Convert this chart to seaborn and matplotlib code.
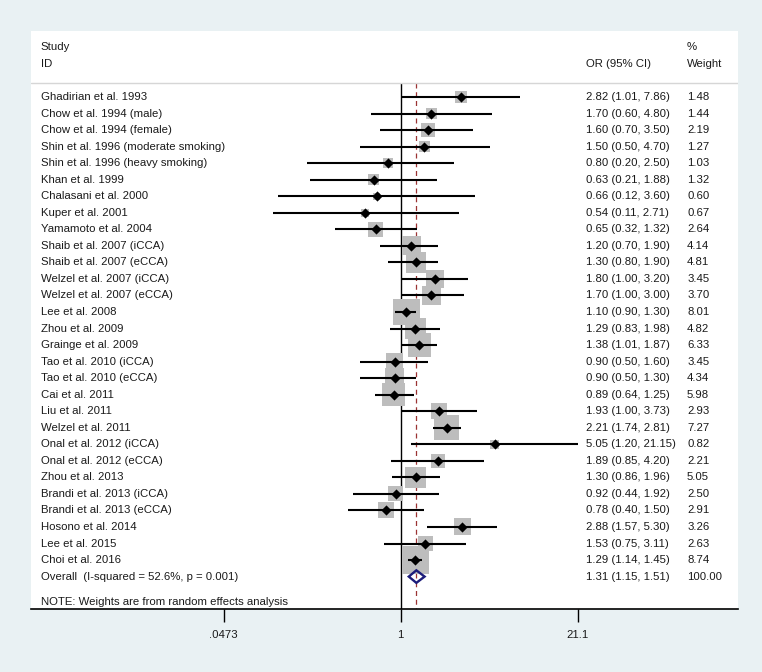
import numpy as np
import matplotlib
matplotlib.use("Agg")
import matplotlib.pyplot as plt
import matplotlib.transforms as mtransforms
import seaborn as sns

studies = [
    "Ghadirian et al. 1993", "Chow et al. 1994 (male)", "Chow et al. 1994 (female)",
    "Shin et al. 1996 (moderate smoking)", "Shin et al. 1996 (heavy smoking)",
    "Khan et al. 1999", "Chalasani et al. 2000", "Kuper et al. 2001",
    "Yamamoto et al. 2004", "Shaib et al. 2007 (iCCA)", "Shaib et al. 2007 (eCCA)",
    "Welzel et al. 2007 (iCCA)", "Welzel et al. 2007 (eCCA)", "Lee et al. 2008",
    "Zhou et al. 2009", "Grainge et al. 2009", "Tao et al. 2010 (iCCA)",
    "Tao et al. 2010 (eCCA)", "Cai et al. 2011", "Liu et al. 2011",
    "Welzel et al. 2011", "Onal et al. 2012 (iCCA)", "Onal et al. 2012 (eCCA)",
    "Zhou et al. 2013", "Brandi et al. 2013 (iCCA)", "Brandi et al. 2013 (eCCA)",
    "Hosono et al. 2014", "Lee et al. 2015", "Choi et al. 2016",
]
odds = [2.82, 1.70, 1.60, 1.50, 0.80, 0.63, 0.66, 0.54, 0.65, 1.20, 1.30, 1.80, 1.70,
        1.10, 1.29, 1.38, 0.90, 0.90, 0.89, 1.93, 2.21, 5.05, 1.89, 1.30, 0.92, 0.78,
        2.88, 1.53, 1.29]
lower = [1.01, 0.60, 0.70, 0.50, 0.20, 0.21, 0.12, 0.11, 0.32, 0.70, 0.80, 1.00, 1.00,
         0.90, 0.83, 1.01, 0.50, 0.50, 0.64, 1.00, 1.74, 1.20, 0.85, 0.86, 0.44, 0.40,
         1.57, 0.75, 1.14]
upper = [7.86, 4.80, 3.50, 4.70, 2.50, 1.88, 3.60, 2.71, 1.32, 1.90, 1.90, 3.20, 3.00,
         1.30, 1.98, 1.87, 1.60, 1.30, 1.25, 3.73, 2.81, 21.15, 4.20, 1.96, 1.92, 1.50,
         5.30, 3.11, 1.45]
weights = [1.48, 1.44, 2.19, 1.27, 1.03, 1.32, 0.60, 0.67, 2.64, 4.14, 4.81, 3.45, 3.70,
           8.01, 4.82, 6.33, 3.45, 4.34, 5.98, 2.93, 7.27, 0.82, 2.21, 5.05, 2.50, 2.91,
           3.26, 2.63, 8.74]
overall_label = "Overall  (I-squared = 52.6%, p = 0.001)"
overall_or, overall_lo, overall_hi, overall_w = 1.31, 1.15, 1.51, 100.00
note = "NOTE: Weights are from random effects analysis"
tick_vals = [0.0473, 1, 21.1]
tick_labels = [".0473", "1", "21.1"]

sns.set_style("white")
plt.rcParams["font.family"] = ["Liberation Sans", "DejaVu Sans"]
fs = 8.2
txt_col = "#1a1a1a"

rows = np.arange(len(studies))
row_overall = len(studies)
row_note = row_overall + 1.55
row_header = -0.85
y_top, y_bot = -3.99, 30.96

fig = plt.figure(figsize=(7.62, 6.72), dpi=100, facecolor="#e9f1f3")
ax = fig.add_axes([31 / 762, 63 / 672, 707 / 762, 578 / 672])
ax.set_facecolor("white")

# confidence intervals
ax.hlines(rows, lower, upper, color="black", lw=1.5, zorder=3)

# weight boxes and point estimates
box_sizes = 46 * np.array(weights)
sns.scatterplot(x=odds, y=rows, marker="s", s=box_sizes, color="#bdbdbd",
                linewidth=0, ax=ax, zorder=2)
sns.scatterplot(x=odds, y=rows, marker="D", s=27, color="black",
                linewidth=0, ax=ax, zorder=4)

# overall diamond
h = 0.38
ax.fill([overall_lo, overall_or, overall_hi, overall_or, overall_lo],
        [row_overall, row_overall - h, row_overall, row_overall + h, row_overall],
        facecolor="none", edgecolor="#1c1c7a", lw=1.7, zorder=5)

# reference lines
ax.vlines(1, row_header, y_bot, color="black", lw=1.0, zorder=1)
ax.vlines(overall_or, row_header, y_bot, color="#9b3333", lw=0.9,
          linestyles=(0, (4, 3)), zorder=1)
ax.axhline(row_header, color="#d6d6d6", lw=1.0)

ax.set_xscale("log")
ax.set_xlim(np.exp(-6.374), np.exp(5.816))
ax.set_ylim(y_bot, y_top)
ax.set_xticks(tick_vals)
ax.set_xticklabels(tick_labels, fontsize=fs, color=txt_col)
ax.minorticks_off()
ax.set_yticks([])
ax.tick_params(axis="x", bottom=True, direction="out", length=9, width=1.0,
               pad=6, color="black")
for side in ["top", "left", "right"]:
    ax.spines[side].set_visible(False)
ax.spines["bottom"].set_color("black")
ax.spines["bottom"].set_linewidth(1.2)

# text columns
tr = mtransforms.blended_transform_factory(ax.transAxes, ax.transData)
x_id, x_or, x_w = 0.0141, 0.785, 0.928
kw = dict(transform=tr, fontsize=fs, color=txt_col, va="center", ha="left")
ax.text(x_id, -3.02, "Study", **kw)
ax.text(x_id, -2.0, "ID", **kw)
ax.text(x_or, -2.0, "OR (95% CI)", **kw)
ax.text(x_w, -3.02, "%", **kw)
ax.text(x_w, -2.0, "Weight", **kw)
for i, name in enumerate(studies):
    ax.text(x_id, i, name, **kw)
    ax.text(x_or, i, f"{odds[i]:.2f} ({lower[i]:.2f}, {upper[i]:.2f})", **kw)
    ax.text(x_w, i, f"{weights[i]:.2f}", **kw)
ax.text(x_id, row_overall, overall_label, **kw)
ax.text(x_or, row_overall, f"{overall_or:.2f} ({overall_lo:.2f}, {overall_hi:.2f})", **kw)
ax.text(x_w, row_overall, f"{overall_w:.2f}", **kw)
ax.text(x_id, row_note, note, **kw)

fig.savefig("out.png", dpi=100, facecolor=fig.get_facecolor())
